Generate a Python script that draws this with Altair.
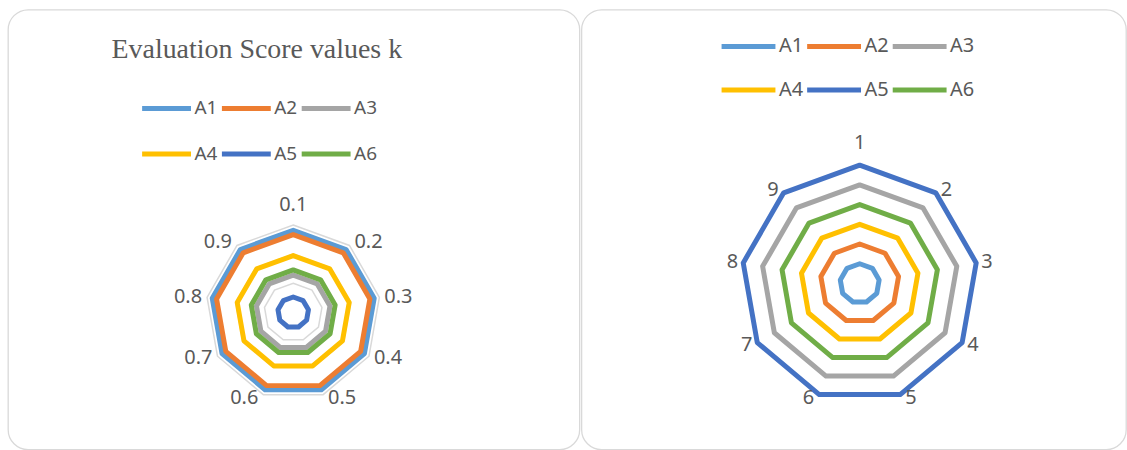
import altair as alt
import pandas as pd

# Series shown in both radar panels and their Office-style colours
SERIES = ["A1", "A2", "A3", "A4", "A5", "A6"]
COLORS = ["#5B9BD5", "#ED7D31", "#A5A5A5", "#FFC000", "#4472C4", "#70AD47"]

# Left panel: evaluation score of each series at every k
K_LABELS = ["0.1", "0.2", "0.3", "0.4", "0.5", "0.6", "0.7", "0.8", "0.9"]
SCORE = [0.282, 0.267, 0.128, 0.195, 0.053, 0.146]
SCORE_MAX = 0.3
SCORE_GRID = [0.1, 0.2, 0.3]

# Right panel: rank of each series at every position
RANK_LABELS = ["1", "2", "3", "4", "5", "6", "7", "8", "9"]
RANK = [1, 2, 5, 3, 6, 4]
RANK_MAX = 6

FONT = "Noto Sans"
INK = "#595959"
GRID = "#D9D9D9"


def series_table(labels, values):
    rows = []
    for s, v in zip(SERIES, values):
        for i, lab in enumerate(labels):
            rows.append({"series": s, "i": i, "axis": lab, "value": v})
    return pd.DataFrame(rows)


def grid_table(labels, levels):
    rows = []
    for lv in levels:
        for i, lab in enumerate(labels):
            rows.append({"level": lv, "i": i, "value": lv})
    return pd.DataFrame(rows)


def radar(labels, values, vmax, grid_levels, unit, center, size, legend,
          top_gap, title=None):
    """Radar panel; `unit` is the pixel radius of vmax, `center` the view pixel of the pole."""
    w, h = size
    cx, cy = center
    n = len(labels)
    xs = alt.Scale(domain=[-cx / unit, (w - cx) / unit], nice=False, zero=False)
    ys = alt.Scale(domain=[-(h - cy) / unit, cy / unit], nice=False, zero=False)
    X = alt.X("x:Q", scale=xs, axis=None)
    Y = alt.Y("y:Q", scale=ys, axis=None)

    angle = f"2*PI*datum.i/{n}"

    def to_xy(ch):
        return ch.transform_calculate(t=angle).transform_calculate(
            x=f"datum.value/{vmax}*sin(datum.t)",
            y=f"datum.value/{vmax}*cos(datum.t)",
        )

    layers = []
    if grid_levels:
        grid = to_xy(
            alt.Chart(grid_table(labels, grid_levels)).mark_line(
                stroke=GRID, strokeWidth=1.5, interpolate="linear-closed"
            )
        ).encode(X, Y, detail="level:N", order="i:Q")
        layers.append(grid)

    lines = to_xy(
        alt.Chart(series_table(labels, values)).mark_line(
            strokeWidth=5, interpolate="linear-closed", strokeJoin="round"
        )
    ).encode(
        X, Y,
        color=alt.Color(
            "series:N",
            scale=alt.Scale(domain=SERIES, range=COLORS),
            legend=legend,
        ),
        order="i:Q",
    )
    layers.append(lines)

    # Category labels sit beside the end of each spoke: beside it on the
    # flanks, above it at the top spoke.
    lab_base = (
        alt.Chart(pd.DataFrame({"i": list(range(n)), "axis": labels}))
        .transform_calculate(t=angle)
        .transform_calculate(s="sin(datum.t)", c="cos(datum.t)")
    )
    style = dict(font=FONT, fontSize=20, color=INK, baseline="middle")
    side_xy = dict(
        x="datum.s",
        y=f"datum.c*(1 + 4/{unit})",
    )
    right_side = (
        lab_base.transform_filter("datum.s > 0.01")
        .transform_calculate(**side_xy)
        .mark_text(align="left", dx=5, **style)
        .encode(X, Y, text="axis:N")
    )
    left_side = (
        lab_base.transform_filter("datum.s < -0.01")
        .transform_calculate(**side_xy)
        .mark_text(align="right", dx=-5, **style)
        .encode(X, Y, text="axis:N")
    )
    top = (
        lab_base.transform_filter("abs(datum.s) <= 0.01")
        .transform_calculate(x="datum.s", y=f"datum.c + {top_gap}/{unit}")
        .mark_text(align="center", **style)
        .encode(X, Y, text="axis:N")
    )
    layers += [right_side, left_side, top]

    props = dict(width=w, height=h)
    if title is not None:
        props["title"] = title
    return alt.layer(*layers).properties(**props)


def legend(x, y, length, font_size, col_pad, row_pad):
    return alt.Legend(
        title=None,
        orient="none",
        legendX=x,
        legendY=y,
        direction="horizontal",
        columns=3,
        symbolType="stroke",
        symbolSize=length * length,
        symbolStrokeWidth=5,
        labelFont=FONT,
        labelFontSize=font_size,
        labelColor=INK,
        labelOffset=1,
        columnPadding=col_pad,
        rowPadding=row_pad,
    )


left = radar(
    K_LABELS, SCORE, SCORE_MAX, SCORE_GRID,
    unit=87.7, center=(286, 303.7), size=(573, 441),
    legend=legend(132, 72.2, 49, 19, -7, 8.6),
    top_gap=20,
    title=alt.Title(
        "Evaluation Score values k",
        font="Liberation Serif",
        fontSize=28,
        fontWeight="normal",
        color=INK,
        anchor="middle",
        baseline="alphabetic",
        offset=-77,
        dx=-37,
    ),
)

right = radar(
    RANK_LABELS, RANK, RANK_MAX, None,
    unit=118.6, center=(279, 274.6), size=(546, 441),
    legend=legend(138, 7.2, 54, 20, -7.2, 4),
    top_gap=22,
)

chart = (
    alt.hconcat(left, right, spacing=0)
    .resolve_scale(color="independent", x="independent", y="independent")
    .resolve_legend(color="independent")
    .properties(padding={"left": 7, "top": 8, "right": 0, "bottom": 1}, background="white")
    .configure_view(stroke=GRID, strokeWidth=1.3, cornerRadius=20)
)

chart.save("out.html", embed_options={"renderer": "svg", "actions": False})
